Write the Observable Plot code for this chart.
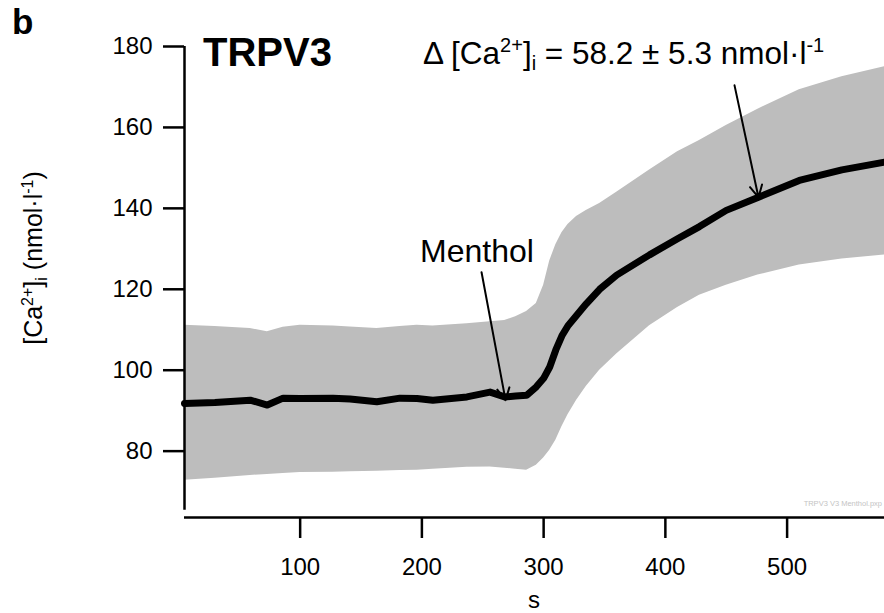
<!DOCTYPE html>
<html><head><meta charset="utf-8">
<script src="https://cdn.jsdelivr.net/npm/d3@7"></script>
<script src="https://cdn.jsdelivr.net/npm/@observablehq/plot@0.6"></script>
<style>
html,body{margin:0;padding:0;background:#fff;}
#chart{position:relative;width:884px;height:613px;overflow:hidden;}
</style></head><body><div id="chart"></div>
<script>
// time (s)
const time    = [5, 30, 59, 73, 86, 100, 127, 141, 163, 182, 196, 209, 237, 256, 268, 277, 286, 294, 300, 305, 310, 315, 320, 327, 335, 346, 360, 387, 410, 428, 450, 476, 510, 545, 580];
// mean [Ca2+]i (nmol/l)
const meanCa  = [91.8, 92.0, 92.6, 91.4, 93.1, 93.0, 93.1, 92.9, 92.2, 93.1, 93.0, 92.6, 93.4, 94.6, 93.4, 93.6, 93.8, 95.9, 98.0, 100.8, 105.0, 108.5, 111.0, 113.5, 116.4, 120.0, 123.5, 128.5, 132.5, 135.5, 139.5, 142.7, 146.9, 149.5, 151.4];
// mean + SD
const upperCa = [111.1, 110.8, 110.3, 109.5, 110.6, 111.1, 110.9, 110.7, 110.3, 110.8, 111.1, 110.9, 111.5, 112.0, 112.3, 113.2, 114.5, 116.5, 121.0, 127.0, 131.0, 134.0, 136.0, 138.0, 139.5, 141.2, 144.0, 149.5, 154.0, 156.8, 160.5, 164.5, 169.3, 172.5, 175.0];
// mean - SD
const lowerCa = [72.8, 73.3, 74.0, 74.2, 74.5, 74.7, 74.8, 74.9, 75.0, 75.2, 75.3, 75.5, 76.0, 76.1, 75.8, 75.5, 75.3, 76.5, 78.3, 80.2, 82.7, 86.0, 89.0, 92.5, 96.0, 100.0, 104.0, 111.0, 115.5, 118.5, 121.0, 123.5, 126.0, 127.5, 128.5];

const xTicks = [100, 200, 300, 400, 500];
const yTicks = [80, 100, 120, 140, 160, 180];
const xDomain = [5, 580];
const yDomain = [63.6, 180];

const rows = time.map((t, i) => ({t, mean: meanCa[i], hi: upperCa[i], lo: lowerCa[i]}));
const font = "'Liberation Sans', Arial, sans-serif";

const plot = Plot.plot({
  width: 884, height: 613,
  marginLeft: 184, marginRight: 0, marginTop: 46, marginBottom: 96,
  style: {fontFamily: font, background: "#fff", overflow: "visible", color: "#000"},
  x: {domain: xDomain},
  y: {domain: yDomain},
  marks: [
    Plot.areaY(rows, {x: "t", y1: "lo", y2: "hi", fill: "#bdbdbd"}),
    Plot.line(rows, {x: "t", y: "mean", stroke: "#000", strokeWidth: 7, strokeLinejoin: "round", strokeLinecap: "round"}),
    Plot.arrow([{x1: 249, y1: 124.2, x2: 268.7, y2: 92.6}], {x1: "x1", y1: "y1", x2: "x2", y2: "y2", stroke: "#000", strokeWidth: 2, headLength: 10, headAngle: 55}),
    Plot.arrow([{x1: 456.8, y1: 170.4, x2: 476.5, y2: 142.7}], {x1: "x1", y1: "y1", x2: "x2", y2: "y2", stroke: "#000", strokeWidth: 2, headLength: 10, headAngle: 55}),
    Plot.ruleX([xDomain[0]], {y1: 180, y2: 65.4, stroke: "#000", strokeWidth: 2.5}),
    Plot.ruleY([yDomain[0]], {stroke: "#000", strokeWidth: 2.5}),
    Plot.axisX({ticks: xTicks, tickSize: 21, tickPadding: 19, fontSize: 24, strokeWidth: 2.5, label: null}),
    Plot.axisY({ticks: yTicks, tickSize: 21, tickPadding: 11, fontSize: 24, strokeWidth: 2.5, label: null})
  ]
});
document.getElementById("chart").appendChild(plot);

const svg = d3.select(plot);
const g = svg.append("g").attr("font-family", font).attr("fill", "#000").attr("text-anchor", "start");

// panel letter
g.append("text").attr("x", 12).attr("y", 34).attr("font-size", 35).attr("font-weight", "bold").text("b");
// title
g.append("text").attr("x", 203).attr("y", 66).attr("font-size", 40).attr("font-weight", "bold").text("TRPV3");
// Menthol label
g.append("text").attr("x", 477).attr("y", 262).attr("font-size", 32).attr("text-anchor", "middle").text("Menthol");

// Delta annotation
const d = g.append("text").attr("x", 423).attr("y", 64).attr("font-size", 31.5);
d.append("tspan").text("\u0394 [Ca");
d.append("tspan").attr("dy", -12).attr("font-size", 20).text("2+");
d.append("tspan").attr("dy", 12).text("]");
d.append("tspan").attr("dy", 6).attr("font-size", 20).text("i");
d.append("tspan").attr("dy", -6).text("\u00a0= 58.2 \u00b1 5.3 nmol\u00b7l");
d.append("tspan").attr("dy", -12).attr("font-size", 20).text("-1");

// y axis label
const yl = g.append("text").attr("transform", "translate(42,258) rotate(-90)").attr("text-anchor", "middle").attr("font-size", 25);
yl.append("tspan").text("[Ca");
yl.append("tspan").attr("dy", -9).attr("font-size", 16).text("2+");
yl.append("tspan").attr("dy", 9).text("]");
yl.append("tspan").attr("dy", 5).attr("font-size", 16).text("i");
yl.append("tspan").attr("dy", -5).text("\u00a0(nmol\u00b7l");
yl.append("tspan").attr("dy", -9).attr("font-size", 16).text("-1");
yl.append("tspan").attr("dy", 9).text(")");

// x axis label
g.append("text").attr("x", 534).attr("y", 608).attr("font-size", 24).attr("text-anchor", "middle").text("s");

// file watermark
g.append("text").attr("x", 882).attr("y", 506).attr("font-size", 7.5).attr("fill", "#c4c4c4").attr("text-anchor", "end").text("TRPV3 V3 Menthol.pxp");
</script>
</body></html>
